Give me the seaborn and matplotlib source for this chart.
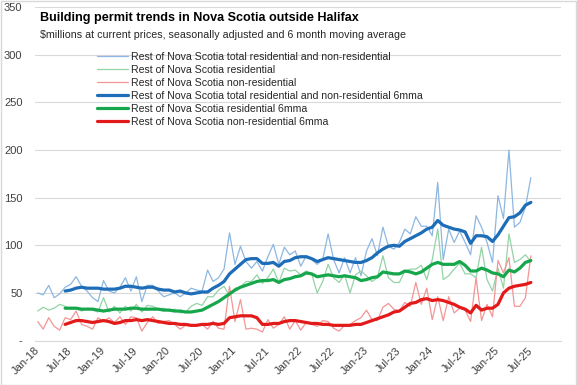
import matplotlib
matplotlib.use("Agg")
import matplotlib.pyplot as plt
import seaborn as sns
import numpy as np
from matplotlib.patches import Rectangle

# ---------------- data ----------------
tick_labels = ["Jan-18", "Jul-18", "Jan-19", "Jul-19", "Jan-20", "Jul-20", "Jan-21", "Jul-21",
               "Jan-22", "Jul-22", "Jan-23", "Jul-23", "Jan-24", "Jul-24", "Jan-25", "Jul-25"]

total_raw = [50, 48, 58, 45, 49, 56, 59, 67, 57, 52, 45, 41,
             63, 52, 50, 56, 66, 52, 67, 41, 58, 58, 52, 46,
             48, 50, 46, 50, 55, 53, 52, 74, 62, 66, 75, 113,
             80, 99, 83, 76, 83, 73, 88, 101, 80, 98, 90, 94,
             78, 89, 85, 80, 85, 112, 85, 71, 87, 71, 87, 68,
             94, 107, 89, 119, 99, 96, 103, 117, 112, 130, 120, 120,
             110, 166, 85, 117, 103, 115, 103, 90, 131, 119, 103, 82,
             152, 128, 200, 119, 124, 140, 171]

res_raw = [31, 35, 32, 34, 38, 36, 33, 34, 31, 34, 32, 30,
           45, 30, 36, 29, 36, 31, 38, 30, 37, 36, 33, 34,
           31, 33, 29, 30, 36, 39, 37, 46, 46, 53, 57, 47,
           55, 56, 62, 62, 69, 60, 66, 75, 61, 76, 73, 74,
           69, 73, 70, 50, 62, 80, 66, 61, 69, 50, 69, 73,
           68, 62, 66, 89, 66, 61, 61, 73, 75, 75, 79, 64,
           85, 117, 64, 68, 75, 81, 70, 70, 66, 98, 64, 52,
           76, 55, 112, 82, 85, 90, 83]

nonres_raw = [20, 12, 24, 15, 11, 24, 22, 31, 17, 15, 12, 24,
              20, 24, 19, 25, 17, 25, 24, 10, 19, 25, 18, 20,
              21, 17, 12, 16, 15, 17, 17, 12, 20, 13, 12, 57,
              20, 43, 12, 13, 12, 9, 22, 13, 17, 25, 12, 21,
              11, 19, 17, 15, 21, 20, 13, 10, 16, 17, 21, 24,
              32, 22, 21, 35, 39, 33, 31, 40, 36, 61, 38, 55,
              22, 46, 21, 46, 29, 34, 32, 20, 66, 21, 38, 25,
              84, 71, 87, 36, 36, 45, 89]

# 6-month moving averages (Jun-18 .. Jul-25)
total_ma = [52, 53, 55, 56, 55, 55, 55,
            54, 54, 54, 55, 57, 57, 56, 55, 56, 56, 54, 53,
            53, 51, 52, 50, 49, 50, 51, 51, 55, 58, 62, 70,
            75, 80, 85, 86, 86, 81, 81, 82, 78, 83, 84, 87,
            88, 88, 86, 83, 85, 87, 86, 85, 84, 83, 82, 82,
            84, 87, 92, 96, 99, 100, 99, 104, 107, 110, 113, 117,
            119, 126, 121, 119, 117, 116, 114, 102, 110, 110, 109, 104,
            111, 120, 129, 130, 134, 142, 145]

res_ma = [34, 34, 34, 33, 33, 33, 32,
          31, 32, 33, 33, 33, 34, 34, 33, 33, 33, 33, 32,
          32, 31, 31, 30, 30, 31, 32, 35, 38, 41, 45, 49,
          53, 56, 58, 60, 62, 63, 63, 64, 61, 64, 65, 67,
          68, 71, 70, 67, 68, 69, 68, 67, 68, 67, 66, 63,
          64, 66, 67, 72, 71, 70, 70, 73, 72, 70, 72, 76,
          80, 82, 80, 80, 80, 83, 79, 73, 73, 76, 74, 71,
          70, 67, 74, 72, 76, 82, 84]

nonres_ma = [17, 19, 21, 21, 20, 19, 20,
             21, 20, 18, 19, 21, 21, 22, 21, 22, 21, 20, 19,
             18, 18, 17, 17, 16, 16, 17, 17, 18, 17, 18, 24,
             25, 26, 26, 26, 24, 17, 17, 18, 18, 20, 21, 21,
             20, 19, 18, 18, 17, 17, 16, 16, 16, 16, 17, 17,
             19, 21, 23, 25, 27, 30, 31, 35, 39, 40, 43, 44,
             42, 43, 42, 40, 38, 35, 33, 29, 37, 32, 34, 34,
             38, 50, 55, 57, 58, 59, 61]

series_labels = ["Rest of Nova Scotia total residential and non-residential",
                 "Rest of Nova Scotia residential",
                 "Rest of Nova Scotia non-residential",
                 "Rest of Nova Scotia total residential and non-residential 6mma",
                 "Rest of Nova Scotia residential 6mma",
                 "Rest of Nova Scotia non-residential 6mma"]

y_ticks = [0, 50, 100, 150, 200, 250, 300, 350]
y_tick_labels = ["-", "50", "100", "150", "200", "250", "300", "350"]

# ---------------- style ----------------
sns.set_style("white")
plt.rcParams["font.family"] = ["Liberation Sans", "DejaVu Sans"]

fig = plt.figure(figsize=(5.77, 3.85), dpi=100)
ax = fig.add_axes([35 / 577, 1 - 340.6 / 385, (561 - 35) / 577, (340.6 - 7) / 385])

x_raw = np.arange(len(total_raw))
x_ma = np.arange(5, 5 + len(total_ma))

raw_styles = [("#8DB7E2", total_raw), ("#93D3A6", res_raw), ("#F39595", nonres_raw)]
ma_styles = [("#1D6DB8", total_ma), ("#16A64B", res_ma), ("#E31A1A", nonres_ma)]

for i, (c, vals) in enumerate(raw_styles):
    sns.lineplot(x=x_raw, y=vals, ax=ax, color=c, linewidth=0.9, label=series_labels[i])
for i, (c, vals) in enumerate(ma_styles):
    sns.lineplot(x=x_ma, y=vals, ax=ax, color=c, linewidth=2.3, label=series_labels[3 + i])

ax.set_xlim(-0.5, 95.5)
ax.set_ylim(0, 350)
ax.set_yticks(y_ticks)
ax.set_yticklabels(y_tick_labels)
ax.set_xticks(np.arange(0, 91, 6))
ax.set_xticklabels(tick_labels, rotation=45, ha="right", va="center", rotation_mode="anchor")
ax.tick_params(axis="y", length=0, pad=9, labelsize=8, labelcolor="#404040")
ax.tick_params(axis="x", length=0, pad=6, labelsize=8, labelcolor="#404040")

ax.grid(axis="y", color="#D9D9D9", linewidth=0.8)
ax.set_axisbelow(True)
for s in ["left", "right", "top"]:
    ax.spines[s].set_visible(False)
ax.spines["bottom"].set_color("#D9D9D9")
ax.spines["bottom"].set_linewidth(0.8)
ax.set_xlabel("")
ax.set_ylabel("")

leg = ax.legend(loc="upper left", bbox_to_anchor=(97 / 577, 1 - 52 / 385),
                bbox_transform=fig.transFigure, frameon=False, fontsize=7.6,
                handlelength=2.9, handletextpad=0.3, labelspacing=0.28, borderpad=0,
                borderaxespad=0)
for t in leg.get_texts():
    t.set_color("#262626")

fig.text(40 / 577, 1 - 18 / 385, "Building permit trends in Nova Scotia outside Halifax",
         fontsize=9.1, fontweight="bold", color="#000000", va="center", ha="left")
fig.text(40 / 577, 1 - 35 / 385,
         "$millions at current prices, seasonally adjusted and 6 month moving average",
         fontsize=7.7, color="#262626", va="center", ha="left")

fig.patches.append(Rectangle((0.001, 0.001), 0.997, 0.997, transform=fig.transFigure,
                             fill=False, edgecolor="#D9D9D9", linewidth=1))

fig.savefig("out.png", dpi=100)
